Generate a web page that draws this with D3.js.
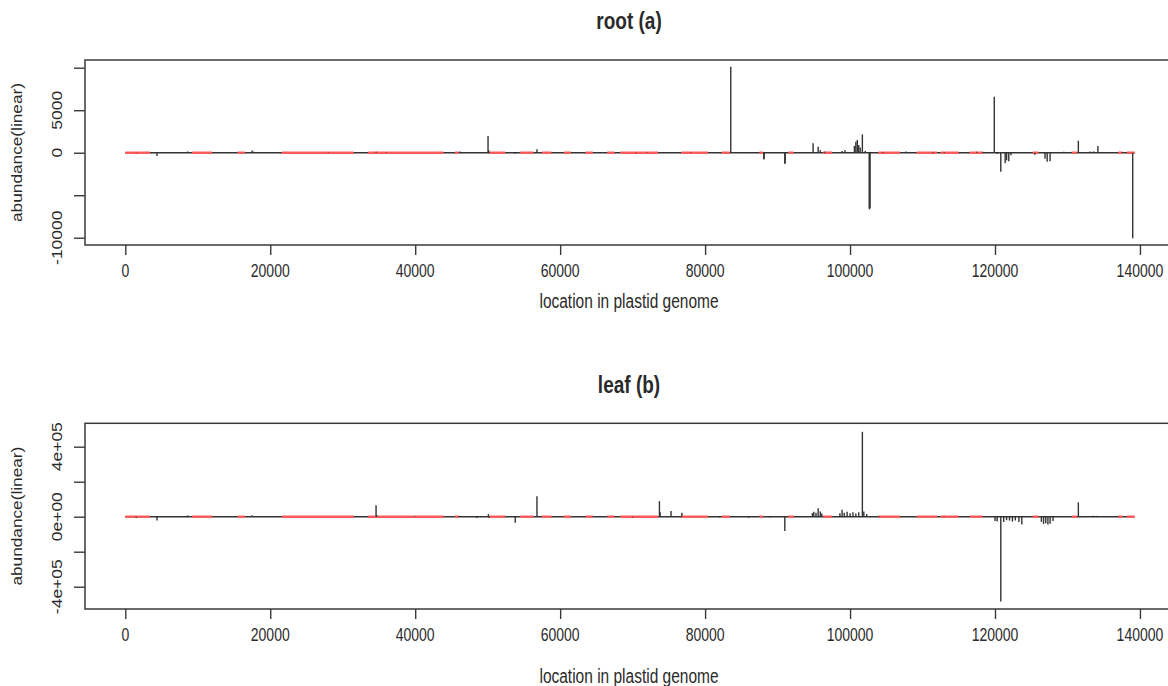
<!DOCTYPE html>
<html><head><meta charset="utf-8">
<script src="https://cdn.jsdelivr.net/npm/d3@7"></script>
<style>
body{margin:0;background:#fff}
text{font-family:"Liberation Sans",Arial,sans-serif;fill:#2a2a2a}
</style>
</head><body>
<svg id="c" width="1168" height="686"></svg>
<script>
// ---- data ----
const xTicks = [0, 20000, 40000, 60000, 80000, 100000, 120000, 140000];
const xTickLabels = ["0","20000","40000","60000","80000","100000","120000","140000"];

const rootYTicks = [-10000, -5000, 0, 5000, 10000];
const rootYLabels = ["-10000", "", "0", "5000", ""];
const leafYTicks = [-400000, -200000, 0, 200000, 400000];
const leafYLabels = ["-4e+05", "", "0e+00", "", "4e+05"];

const genomeEnd = 139000;

const rootPos = [1500,4370,8600,13000,17500,17700,28000,34600,36000,46200,50050,50150,53800,56800,60000,63000,65500,70500,72000,78000,83540,85000,88100,88150,91000,91050,94900,95600,95900,96500,98900,99300,100600,100800,101000,101200,101400,101700,102100,102650,102700,102750,104500,107700,111400,113000,117500,118300,119900,120300,120800,121400,121600,121900,122200,125500,126900,127200,127600,129500,131500,133100,133600,134200,137500,139000];
const rootVal = [-60,-390,150,80,250,120,40,120,60,150,1960,300,-120,400,60,80,60,-100,60,60,10100,-60,-800,-700,-1330,-1200,1100,700,300,120,200,300,800,1300,1500,900,600,2160,200,-6600,-6660,-6500,80,150,100,80,100,100,6590,-150,-2230,-1250,-900,-1000,-300,-250,-700,-1060,-1000,100,1410,150,150,790,80,-10050];

const leafPos = [1500,4370,8600,13000,17500,19000,34600,34700,40000,46000,48500,50100,50200,53800,56800,62000,68000,70000,73700,73800,75300,76800,82000,86000,89000,91000,94800,95000,95300,95600,95900,96100,98600,98900,99200,99600,100000,100400,100800,101200,101700,101900,102300,104000,108000,113000,120000,120300,120800,121200,121600,122000,122400,122800,123300,123700,126400,126700,127000,127300,127600,128000,131500,133500,134000,137000];
const leafVal = [-8000,-22000,8000,4000,8000,3000,66000,8000,3000,5000,-8000,15000,-6000,-34000,117000,3000,3000,-5000,89000,25000,32000,22000,-4000,-6000,-4000,-81000,20000,28000,22000,48000,30000,18000,20000,40000,22000,28000,20000,25000,18000,25000,485000,30000,15000,4000,3000,3000,-25000,-28000,-485000,-30000,-20000,-22000,-28000,-22000,-30000,-45000,-30000,-41000,-38000,-45000,-40000,-25000,82000,5000,5000,4000];

const redStart = [0,9200,15500,21600,33500,45500,50300,54500,57500,60500,63500,66500,68300,76700,82300,87500,91500,96300,103900,109200,112500,116500,125200,130600,137000,138200];
const redEnd   = [3400,12000,16500,31500,43900,46000,52400,56300,58800,61500,64500,67500,73500,80400,83400,88000,92200,97500,106900,112000,115000,118300,126000,131300,137600,139300];

// ---- drawing ----
const SY = 1.25;
const svg = d3.select("#c");
const x = d3.scaleLinear().domain([-5560, 144560]).range([85, 1173]);
const boxL = 85, boxR = 1173;

function panel(o) {
  const y = d3.scaleLinear().domain(o.yDomain).range([o.bottom, o.top]);
  const g = svg.append("g");
  const lineCol = "#333";

  g.append("line").attr("x1", x(0)).attr("x2", x(genomeEnd))
    .attr("y1", y(0)).attr("y2", y(0)).attr("stroke", lineCol).attr("stroke-width", 1.4);
  g.selectAll("line.red").data(redStart.map((s, i) => [s, redEnd[i]])).join("line")
    .attr("class", "red")
    .attr("x1", d => x(d[0])).attr("x2", d => x(d[1]))
    .attr("y1", y(0)).attr("y2", y(0))
    .attr("stroke", "#ff5a5a").attr("stroke-width", 2.4);
  g.selectAll("line.sp").data(o.pos.map((p, i) => [p, o.val[i]])).join("line")
    .attr("class", "sp")
    .attr("x1", d => x(d[0])).attr("x2", d => x(d[0]))
    .attr("y1", y(0)).attr("y2", d => y(d[1]))
    .attr("stroke", lineCol).attr("stroke-width", 1.4);

  g.append("rect").attr("x", boxL).attr("y", o.top).attr("width", boxR - boxL).attr("height", o.bottom - o.top)
    .attr("fill", "none").attr("stroke", "#3a3a3a").attr("stroke-width", 1.5);

  const ax = g.append("g").attr("transform", `translate(0,${o.bottom})`)
    .call(d3.axisBottom(x).tickValues(xTicks).tickSize(10).tickSizeOuter(0).tickFormat(""));
  ax.select(".domain").remove();
  ax.selectAll(".tick line").attr("stroke", "#3a3a3a").attr("stroke-width", 1.4);
  g.selectAll("text.xl").data(xTicks).join("text").attr("class", "xl")
    .attr("transform", d => `translate(${x(d)},${o.bottom + 32}) scale(1,${SY})`)
    .attr("text-anchor", "middle").attr("font-size", 14)
    .text((d, i) => xTickLabels[i]);

  const ay = g.append("g").attr("transform", `translate(${boxL},0)`)
    .call(d3.axisLeft(y).tickValues(o.yTicks).tickSize(11).tickSizeOuter(0).tickFormat(""));
  ay.select(".domain").remove();
  ay.selectAll(".tick line").attr("stroke", "#3a3a3a").attr("stroke-width", 1.4);
  g.selectAll("text.yl").data(o.yTicks).join("text").attr("class", "yl")
    .attr("transform", d => `translate(62,${y(d)}) scale(1,${SY}) rotate(-90)`)
    .attr("text-anchor", "middle").attr("font-size", 14)
    .text((d, i) => o.yLabels[i]);

  g.append("text").attr("transform", `translate(${(boxL + boxR) / 2},${o.titleY}) scale(1,${SY})`)
    .attr("text-anchor", "middle").attr("font-size", 19).attr("font-weight", "bold").text(o.title);
  g.append("text").attr("transform", `translate(${(boxL + boxR) / 2},${o.xTitleY}) scale(1,${SY})`)
    .attr("text-anchor", "middle").attr("font-size", 15.5).text("location in plastid genome");
  g.append("text").attr("transform", `translate(22,${(o.top + o.bottom) / 2}) scale(1,${SY}) rotate(-90)`)
    .attr("text-anchor", "middle").attr("font-size", 13.8).text("abundance(linear)");
}

panel({top: 60, bottom: 245, yDomain: [-10856, 10906], pos: rootPos, val: rootVal,
  yTicks: rootYTicks, yLabels: rootYLabels, title: "root (a)", titleY: 29, xTitleY: 308});
panel({top: 423.3, bottom: 609, yDomain: [-527400, 533700], pos: leafPos, val: leafVal,
  yTicks: leafYTicks, yLabels: leafYLabels, title: "leaf (b)", titleY: 393, xTitleY: 683});
</script>
</body></html>
